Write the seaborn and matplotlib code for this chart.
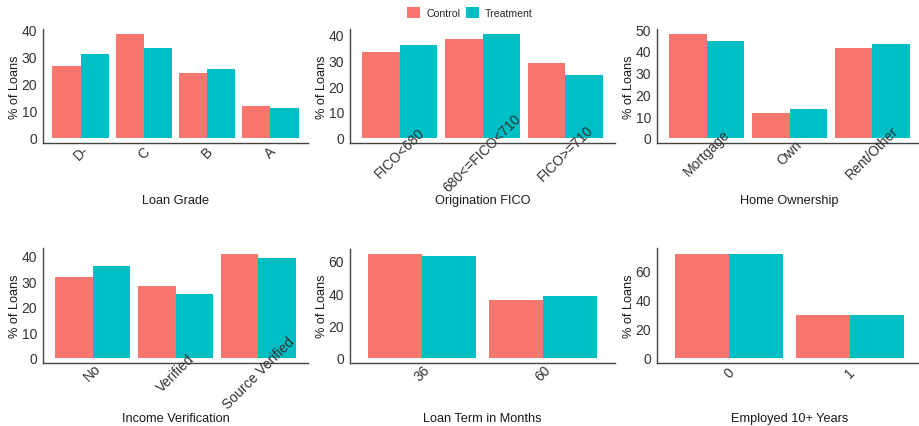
import numpy as np
import pandas as pd
import seaborn as sns
import matplotlib.pyplot as plt
from matplotlib.patches import Patch

plt.switch_backend('agg')

groups = ['Control', 'Treatment']
colors = {'Control': '#F8766D', 'Treatment': '#00BFC4'}

grade_cats = ['D-', 'C', 'B', 'A']
grade_control = [26.5, 38.4, 23.9, 11.8]
grade_treatment = [30.9, 33.1, 25.4, 11.0]

fico_cats = ['FICO<680', '680<=FICO<710', 'FICO>=710']
fico_control = [33.1, 38.1, 28.8]
fico_treatment = [35.8, 40.1, 24.2]

home_cats = ['Mortgage', 'Own', 'Rent/Other']
home_control = [47.7, 11.5, 41.2]
home_treatment = [44.4, 13.3, 43.2]

income_cats = ['No', 'Verified', 'Source Verified']
income_control = [31.5, 28.0, 40.8]
income_treatment = [35.8, 25.2, 39.3]

term_cats = ['36', '60']
term_control = [64.3, 36.0]
term_treatment = [63.0, 38.0]

emp_cats = ['0', '1']
emp_control = [71.2, 29.6]
emp_treatment = [71.2, 29.6]

sns.set_style('white')
plt.rcParams['font.family'] = ['Liberation Sans', 'DejaVu Sans']

W, H = 919, 427
fig = plt.figure(figsize=(W / 100, H / 100), dpi=100)


def px_axes(left, top, right, bottom):
    return fig.add_axes([left / W, 1 - bottom / H, (right - left) / W, (bottom - top) / H])


def draw_panel(ax, cats, control, treatment, xlabel, step, label_gap):
    df = pd.DataFrame({
        'category': cats * 2,
        'pct': control + treatment,
        'group': ['Control'] * len(cats) + ['Treatment'] * len(cats),
    })
    sns.barplot(data=df, x='category', y='pct', hue='group', order=cats, hue_order=groups,
                palette=colors, width=0.9, saturation=1, errorbar=None, legend=False,
                linewidth=0, ax=ax)
    n = len(cats)
    ymax = df['pct'].max()
    ax.set_xlim(-0.6, n - 0.4)
    ax.set_ylim(-0.05 * ymax, 1.05 * ymax)
    ax.set_yticks(np.arange(0, 1.05 * ymax, step))
    # tick labels are drawn over the bars, as in the original
    ax.set_axisbelow(False)

    for side in ['top', 'right']:
        ax.spines[side].set_visible(False)
    for side in ['left', 'bottom']:
        ax.spines[side].set_color('#444444')
        ax.spines[side].set_linewidth(1.0)

    ax.tick_params(axis='both', length=2.75, width=0.8, color='#444444',
                   labelsize=10, labelcolor='#333333')
    ax.tick_params(axis='y', pad=1.5)
    ax.tick_params(axis='x', pad=4)
    plt.setp(ax.get_xticklabels(), rotation=45, ha='center', va='center', rotation_mode='anchor')

    bbox = ax.get_position()
    h_px = bbox.height * H
    w_px = bbox.width * W
    ax.set_xlabel(xlabel, fontsize=9.2, color='#1a1a1a', va='center')
    ax.xaxis.set_label_coords(0.5, -label_gap / h_px)
    ax.set_ylabel('% of Loans', fontsize=9.2, color='#1a1a1a', va='center')
    ax.yaxis.set_label_coords(-28 / w_px, 0.5)


lefts = [43, 350, 657]
width = 265

ax1 = px_axes(lefts[0], 30, lefts[0] + width, 144)
ax2 = px_axes(lefts[1], 30, lefts[1] + width, 144)
ax3 = px_axes(lefts[2], 30, lefts[2] + width, 144)
ax4 = px_axes(lefts[0], 249.5, lefts[0] + width, 364)
ax5 = px_axes(lefts[1], 249.5, lefts[1] + width, 364)
ax6 = px_axes(lefts[2], 249.5, lefts[2] + width, 364)

draw_panel(ax1, grade_cats, grade_control, grade_treatment, 'Loan Grade', 10, 57)
draw_panel(ax2, fico_cats, fico_control, fico_treatment, 'Origination FICO', 10, 57)
draw_panel(ax3, home_cats, home_control, home_treatment, 'Home Ownership', 10, 57)
draw_panel(ax4, income_cats, income_control, income_treatment, 'Income Verification', 10, 55)
draw_panel(ax5, term_cats, term_control, term_treatment, 'Loan Term in Months', 20, 55)
draw_panel(ax6, emp_cats, emp_control, emp_treatment, 'Employed 10+ Years', 20, 55)

handles = [Patch(facecolor=colors[g], edgecolor='none', label=g) for g in groups]
fig.legend(handles=handles, loc='center', bbox_to_anchor=(470 / W, 1 - 13.5 / H), ncol=2,
           frameon=False, fontsize=7.6, handlelength=1.23, handleheight=1.23,
           handletextpad=0.57, columnspacing=0.5, borderpad=0)

fig.savefig('out.png', dpi=100)
